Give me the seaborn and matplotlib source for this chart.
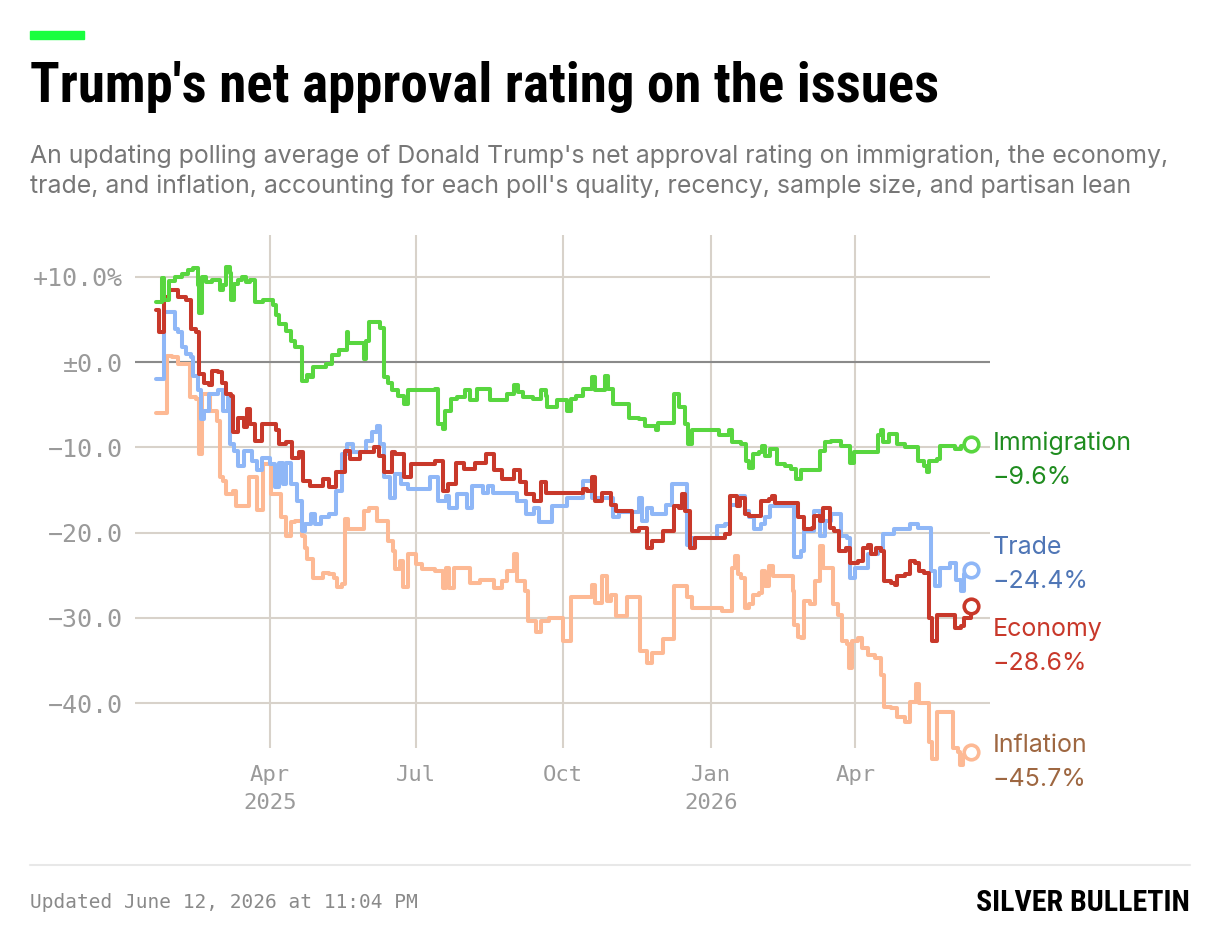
import matplotlib.pyplot as plt
import pandas as pd
import seaborn as sns
from matplotlib import font_manager
from matplotlib.lines import Line2D
from matplotlib.patches import Rectangle

# net approval (percentage points)
imm_dates = ["2025-01-20", "2025-01-24", "2025-01-25", "2025-01-28", "2025-02-01", "2025-02-05", "2025-02-09",
             "2025-02-12", "2025-02-15", "2025-02-16", "2025-02-18", "2025-02-20", "2025-02-24", "2025-03-01",
             "2025-03-03", "2025-03-05", "2025-03-07", "2025-03-08", "2025-03-10", "2025-03-12", "2025-03-15",
             "2025-03-17", "2025-03-20", "2025-03-23", "2025-03-28", "2025-04-03", "2025-04-05", "2025-04-07",
             "2025-04-11", "2025-04-14", "2025-04-17", "2025-04-21", "2025-04-24", "2025-04-26", "2025-04-28",
             "2025-05-06", "2025-05-10", "2025-05-14", "2025-05-19", "2025-05-20", "2025-05-26", "2025-05-30",
             "2025-05-31", "2025-06-02", "2025-06-09", "2025-06-11", "2025-06-14", "2025-06-16", "2025-06-20",
             "2025-06-24", "2025-06-26", "2025-07-13", "2025-07-15", "2025-07-18", "2025-07-19", "2025-07-23",
             "2025-07-27", "2025-08-01", "2025-08-04", "2025-08-08", "2025-08-16", "2025-08-27", "2025-08-31",
             "2025-09-03", "2025-09-06", "2025-09-12", "2025-09-17", "2025-09-20", "2025-09-21", "2025-09-27",
             "2025-10-03", "2025-10-06", "2025-10-09", "2025-10-13", "2025-10-19", "2025-10-21", "2025-10-27",
             "2025-10-29", "2025-11-01", "2025-11-11", "2025-11-17", "2025-11-21", "2025-11-28", "2025-11-29",
             "2025-12-09", "2025-12-12", "2025-12-16", "2025-12-18", "2025-12-20", "2026-01-06", "2026-01-12",
             "2026-01-14", "2026-01-20", "2026-01-23", "2026-01-25", "2026-01-27", "2026-01-31", "2026-02-02",
             "2026-02-04", "2026-02-07", "2026-02-11", "2026-02-16", "2026-02-20", "2026-02-23", "2026-02-26",
             "2026-03-10", "2026-03-13", "2026-03-17", "2026-03-23", "2026-03-29", "2026-03-31", "2026-04-15",
             "2026-04-17", "2026-04-18", "2026-04-22", "2026-04-27", "2026-05-02", "2026-05-10", "2026-05-14",
             "2026-05-16", "2026-05-17", "2026-05-22", "2026-05-24", "2026-06-02", "2026-06-06", "2026-06-12"]
imm_vals = [7.0, 9.8, 7.3, 9.5, 10.0, 10.3, 10.8,
            11.0, 9.0, 5.7, 10.0, 9.4, 9.6, 8.4,
            9.0, 11.2, 10.5, 7.3, 9.2, 9.6, 10.0,
            9.4, 9.6, 7.1, 7.3, 6.7, 5.5, 4.5,
            3.7, 2.5, 1.8, -2.2, -1.5, -1.8, -0.6,
            -0.2, 0.8, 1.4, 3.5, 2.2, 2.2, 0.4,
            2.5, 4.7, 4.0, -1.8, -2.5, -3.3, -4.0,
            -4.9, -3.3, -3.1, -7.3, -7.8, -5.7, -4.3,
            -4.1, -3.3, -4.5, -3.1, -4.5, -3.7, -2.7,
            -3.5, -4.1, -4.3, -3.3, -4.0, -5.3, -4.5,
            -5.7, -4.3, -4.0, -3.1, -1.8, -3.3, -1.6,
            -3.1, -4.9, -6.5, -6.7, -7.5, -8.0, -7.1,
            -3.7, -5.3, -7.3, -9.6, -8.0, -8.6, -8.0,
            -9.4, -9.6, -11.6, -12.4, -10.8, -10.6, -9.8,
            -11.0, -10.2, -12.0, -12.2, -12.5, -13.7, -12.7,
            -10.4, -9.4, -9.3, -9.8, -11.8, -10.6, -8.6,
            -8.0, -9.4, -8.4, -9.6, -10.0, -11.6, -12.2,
            -12.9, -11.6, -11.4, -9.8, -10.2, -9.8, -9.6]

econ_dates = ["2025-01-20", "2025-01-22", "2025-01-25", "2025-01-28", "2025-02-03", "2025-02-08", "2025-02-11",
              "2025-02-14", "2025-02-16", "2025-02-19", "2025-02-22", "2025-02-24", "2025-02-28", "2025-03-02",
              "2025-03-05", "2025-03-08", "2025-03-09", "2025-03-12", "2025-03-16", "2025-03-18", "2025-03-20",
              "2025-03-23", "2025-03-27", "2025-04-05", "2025-04-07", "2025-04-11", "2025-04-15", "2025-04-19",
              "2025-04-22", "2025-04-26", "2025-05-04", "2025-05-08", "2025-05-12", "2025-05-18", "2025-05-21",
              "2025-05-27", "2025-06-05", "2025-06-08", "2025-06-11", "2025-06-16", "2025-06-18", "2025-06-24",
              "2025-06-28", "2025-07-13", "2025-07-18", "2025-07-21", "2025-07-26", "2025-07-31", "2025-08-07",
              "2025-08-14", "2025-08-19", "2025-08-24", "2025-08-31", "2025-09-04", "2025-09-08", "2025-09-13",
              "2025-09-17", "2025-09-20", "2025-10-13", "2025-10-16", "2025-10-19", "2025-10-21", "2025-10-25",
              "2025-10-31", "2025-11-03", "2025-11-13", "2025-11-17", "2025-11-22", "2025-11-25", "2025-12-02",
              "2025-12-09", "2025-12-12", "2025-12-14", "2025-12-16", "2025-12-19", "2025-12-22", "2026-01-10",
              "2026-01-13", "2026-01-17", "2026-01-19", "2026-01-22", "2026-01-25", "2026-02-01", "2026-02-06",
              "2026-02-08", "2026-02-10", "2026-02-24", "2026-02-28", "2026-03-05", "2026-03-06", "2026-03-10",
              "2026-03-12", "2026-03-16", "2026-03-19", "2026-03-22", "2026-03-26", "2026-03-29", "2026-04-03",
              "2026-04-06", "2026-04-09", "2026-04-11", "2026-04-14", "2026-04-17", "2026-04-19", "2026-04-23",
              "2026-04-26", "2026-04-27", "2026-05-02", "2026-05-05", "2026-05-08", "2026-05-11", "2026-05-14",
              "2026-05-17", "2026-05-19", "2026-05-22", "2026-06-02", "2026-06-06", "2026-06-08", "2026-06-12"]
econ_vals = [6.1, 3.5, 7.6, 8.4, 7.6, 7.3, 3.9,
             3.5, -1.4, -2.5, -2.7, -1.0, -1.2, -2.5,
             -3.7, -4.0, -8.2, -6.5, -7.6, -5.5, -7.3,
             -9.2, -7.3, -8.0, -9.6, -9.4, -11.2, -10.6,
             -13.9, -14.5, -13.7, -14.7, -12.9, -10.4, -11.4,
             -10.6, -10.0, -11.0, -12.9, -10.6, -10.8, -13.5,
             -12.0, -11.6, -15.1, -14.3, -11.8, -12.5, -11.8,
             -10.8, -12.7, -13.7, -12.7, -14.1, -15.5, -16.3,
             -14.1, -15.3, -14.9, -15.1, -13.5, -16.3, -15.3,
             -16.7, -17.5, -19.8, -19.4, -21.8, -21.0, -19.8,
             -16.9, -17.1, -15.5, -17.5, -21.8, -20.6, -20.2,
             -15.7, -16.9, -15.9, -17.8, -18.0, -16.3, -16.1,
             -15.7, -16.5, -18.2, -19.6, -19.4, -18.0, -18.6,
             -17.1, -19.4, -19.8, -22.2, -21.8, -23.5, -23.3,
             -21.8, -21.4, -22.5, -21.8, -22.2, -25.7, -25.9,
             -26.1, -25.1, -24.9, -23.3, -23.5, -24.5, -24.7,
             -30.0, -32.7, -29.6, -31.2, -31.0, -30.0, -28.6]

trade_dates = ["2025-01-20", "2025-01-25", "2025-02-01", "2025-02-03", "2025-02-05", "2025-02-08", "2025-02-11",
               "2025-02-12", "2025-02-15", "2025-02-17", "2025-02-19", "2025-02-22", "2025-02-28", "2025-03-03",
               "2025-03-06", "2025-03-07", "2025-03-10", "2025-03-12", "2025-03-16", "2025-03-21", "2025-03-24",
               "2025-03-27", "2025-04-01", "2025-04-04", "2025-04-07", "2025-04-09", "2025-04-11", "2025-04-14",
               "2025-04-18", "2025-04-21", "2025-04-23", "2025-04-27", "2025-04-29", "2025-05-03", "2025-05-08",
               "2025-05-12", "2025-05-16", "2025-05-19", "2025-05-23", "2025-05-31", "2025-06-04", "2025-06-07",
               "2025-06-09", "2025-06-11", "2025-06-15", "2025-06-18", "2025-06-22", "2025-06-26", "2025-07-10",
               "2025-07-15", "2025-07-20", "2025-07-22", "2025-07-27", "2025-08-02", "2025-08-05", "2025-08-12",
               "2025-08-15", "2025-08-18", "2025-09-02", "2025-09-08", "2025-09-13", "2025-09-16", "2025-09-24",
               "2025-10-03", "2025-10-13", "2025-10-19", "2025-11-01", "2025-11-05", "2025-11-17", "2025-11-19",
               "2025-11-22", "2025-11-25", "2025-12-04", "2025-12-08", "2025-12-17", "2025-12-20", "2026-01-05",
               "2026-01-10", "2026-01-13", "2026-01-19", "2026-01-22", "2026-01-25", "2026-01-28", "2026-02-01",
               "2026-02-04", "2026-02-07", "2026-02-22", "2026-02-26", "2026-02-28", "2026-03-06", "2026-03-10",
               "2026-03-13", "2026-03-17", "2026-03-23", "2026-03-27", "2026-03-29", "2026-04-01", "2026-04-09",
               "2026-04-15", "2026-04-18", "2026-04-25", "2026-05-05", "2026-05-10", "2026-05-18", "2026-05-21",
               "2026-05-24", "2026-05-30", "2026-06-03", "2026-06-06", "2026-06-08", "2026-06-12"]
trade_vals = [-2.0, 5.9, 3.9, 3.5, 1.8, 1.0, 0.6,
              -1.6, -3.3, -6.7, -5.7, -3.7, -3.3, -5.7,
              -4.1, -9.6, -10.4, -12.2, -10.4, -11.6, -12.7,
              -11.2, -12.0, -14.7, -11.8, -14.3, -11.8, -14.3,
              -16.3, -19.8, -19.0, -17.8, -19.0, -18.2, -17.8,
              -15.1, -10.8, -9.6, -10.6, -9.2, -8.2, -7.5,
              -9.6, -13.5, -15.9, -13.1, -14.3, -14.9, -13.5,
              -16.3, -15.7, -17.1, -15.5, -17.1, -14.5, -15.3,
              -14.5, -15.3, -16.3, -17.8, -17.1, -18.8, -16.9,
              -15.9, -13.9, -15.9, -18.2, -17.6, -15.9, -18.6,
              -17.1, -17.8, -16.7, -14.3, -21.4, -20.6, -19.2,
              -19.0, -16.7, -15.7, -17.5, -18.2, -19.6, -19.0,
              -18.2, -16.9, -22.9, -22.2, -19.8, -17.5, -20.4,
              -18.6, -17.8, -20.4, -20.6, -25.3, -24.1, -22.5,
              -22.2, -20.2, -19.6, -19.0, -19.4, -24.5, -26.3,
              -24.1, -23.5, -25.5, -26.9, -24.9, -24.4]

infl_dates = ["2025-01-20", "2025-01-27", "2025-01-30", "2025-02-03", "2025-02-10", "2025-02-14", "2025-02-16",
              "2025-02-18", "2025-02-23", "2025-02-27", "2025-03-01", "2025-03-03", "2025-03-05", "2025-03-09",
              "2025-03-11", "2025-03-19", "2025-03-24", "2025-03-28", "2025-04-02", "2025-04-08", "2025-04-11",
              "2025-04-14", "2025-04-17", "2025-04-21", "2025-04-23", "2025-04-24", "2025-04-28", "2025-05-04",
              "2025-05-08", "2025-05-11", "2025-05-13", "2025-05-16", "2025-05-18", "2025-05-20", "2025-05-30",
              "2025-06-02", "2025-06-07", "2025-06-14", "2025-06-17", "2025-06-18", "2025-06-21", "2025-06-23",
              "2025-06-26", "2025-07-01", "2025-07-05", "2025-07-13", "2025-07-18", "2025-07-20", "2025-07-22",
              "2025-07-25", "2025-08-04", "2025-08-10", "2025-08-19", "2025-08-24", "2025-08-27", "2025-08-31",
              "2025-09-02", "2025-09-07", "2025-09-09", "2025-09-14", "2025-09-17", "2025-09-22", "2025-10-01",
              "2025-10-06", "2025-10-19", "2025-10-21", "2025-10-25", "2025-10-28", "2025-10-31", "2025-11-03",
              "2025-11-10", "2025-11-18", "2025-11-22", "2025-11-25", "2025-12-02", "2025-12-09", "2025-12-17",
              "2025-12-20", "2026-01-08", "2026-01-14", "2026-01-16", "2026-01-18", "2026-01-20", "2026-01-22",
              "2026-01-25", "2026-01-27", "2026-01-31", "2026-02-02", "2026-02-04", "2026-02-06", "2026-02-09",
              "2026-02-21", "2026-02-22", "2026-02-24", "2026-02-26", "2026-02-28", "2026-03-04", "2026-03-07",
              "2026-03-10", "2026-03-12", "2026-03-18", "2026-03-21", "2026-03-24", "2026-03-27", "2026-03-28",
              "2026-03-30", "2026-04-03", "2026-04-05", "2026-04-09", "2026-04-13", "2026-04-17", "2026-04-19",
              "2026-04-23", "2026-04-27", "2026-05-02", "2026-05-05", "2026-05-09", "2026-05-11", "2026-05-17",
              "2026-05-19", "2026-05-22", "2026-06-01", "2026-06-04", "2026-06-05", "2026-06-07", "2026-06-12"]
infl_vals = [-6.0, 0.7, 0.6, -0.2, -4.1, -4.3, -10.8,
             -3.7, -5.7, -6.9, -13.5, -13.9, -15.5, -15.1,
             -16.9, -13.5, -17.3, -12.0, -15.5, -18.2, -20.4,
             -18.8, -18.6, -20.4, -21.8, -23.1, -25.3, -24.7,
             -24.9, -25.3, -26.4, -26.0, -18.4, -19.6, -17.5,
             -17.1, -18.6, -21.0, -22.1, -24.3, -23.3, -26.4,
             -22.5, -23.7, -24.3, -24.5, -26.5, -24.1, -26.5,
             -24.1, -25.9, -25.5, -26.5, -25.7, -24.5, -22.5,
             -25.7, -26.9, -30.4, -31.6, -30.4, -30.0, -32.7,
             -27.5, -26.1, -28.2, -25.1, -28.0, -27.3, -29.8,
             -27.5, -33.9, -35.3, -34.1, -32.5, -26.3, -27.6,
             -28.8, -29.2, -24.1, -22.7, -24.9, -25.3, -28.8,
             -28.4, -27.3, -27.1, -24.5, -26.3, -23.9, -25.1,
             -26.9, -30.8, -32.2, -32.4, -28.0, -28.4, -25.7,
             -21.6, -24.1, -28.4, -29.6, -32.7, -33.1, -35.9,
             -32.7, -32.4, -33.5, -34.3, -34.7, -36.7, -40.4,
             -40.6, -41.6, -42.2, -39.8, -37.8, -40.0, -44.5,
             -46.5, -41.0, -45.3, -45.7, -47.3, -46.1, -45.7]

y_ticks = [10, 0, -10, -20, -30, -40]
y_labels = ["+10.0%", "±0.0", "−10.0", "−20.0", "−30.0", "−40.0"]
x_ticks = ["2025-04-01", "2025-07-01", "2025-10-01", "2026-01-01", "2026-04-01"]
x_labels = ["Apr\n2025", "Jul", "Oct", "Jan\n2026", "Apr"]

W, H = 1220, 946
sns.set_theme(style="white")
plt.rcParams["font.family"] = ["Inter", "DejaVu Sans"]

# a condensed face for the headline if one is around, else plain bold DejaVu a bit smaller
installed = {f.name for f in font_manager.fontManager.ttflist}
narrow = None
for cand in ["Roboto Condensed", "Liberation Sans Narrow", "Open Sans Condensed", "DejaVu Sans Condensed"]:
    if cand in installed:
        narrow = cand
        break
if narrow:
    head_font, title_size, logo_size = [narrow, "DejaVu Sans"], 39.5, 21.5
else:
    head_font, title_size, logo_size = ["DejaVu Sans"], 31.5, 17

fig = plt.figure(figsize=(W / 100, H / 100), dpi=100)
ax = fig.add_axes([135 / W, 1 - 748 / H, 855 / W, (748 - 235) / H])

# name, dates, values, line colour, label colour, label y (data units)
series = [
    ("Inflation", infl_dates, infl_vals, "#fdb994", "#9e6741", -44.9),
    ("Trade", trade_dates, trade_vals, "#8fb7f7", "#4f76b6", -21.7),
    ("Economy", econ_dates, econ_vals, "#c8382a", "#c8382a", -31.3),
    ("Immigration", imm_dates, imm_vals, "#58d63f", "#1f8c1f", -9.5),
]

lab_tf = ax.get_yaxis_transform()
for name, d, v, c, lc, ly in series:
    d = pd.to_datetime(d)
    sns.lineplot(x=d, y=v, ax=ax, color=c, linewidth=2.9, drawstyle="steps-post",
                 estimator=None, clip_on=False, zorder=3)
    ax.plot(d[-1], v[-1], "o", ms=10.5, mfc="white", mec=c, mew=2.6, clip_on=False, zorder=5)
    ax.text(1.003, ly, name, transform=lab_tf, color=lc, fontsize=18, va="center", ha="left")
    ax.text(1.003, ly - 4.0, f"{v[-1]:.1f}%".replace("-", "−"), transform=lab_tf, color=lc,
            fontsize=18, va="center", ha="left")

ax.set_xlim(pd.Timestamp("2025-01-07"), pd.Timestamp("2026-06-24"))
ax.set_ylim(-45.25, 14.9)

ax.set_yticks(y_ticks)
ax.set_yticklabels(y_labels, fontfamily="DejaVu Sans Mono", fontsize=18, color="#9a9a9a")
ax.set_xticks(pd.to_datetime(x_ticks))
ax.set_xticklabels(x_labels, fontfamily="DejaVu Sans Mono", fontsize=16, color="#9a9a9a",
                   linespacing=1.55)
ax.tick_params(axis="both", length=0)
ax.tick_params(axis="y", pad=9)
ax.tick_params(axis="x", pad=12)

ax.grid(True, color="#d8d2ca", lw=1.5, zorder=0)
ax.axhline(0, color="#8a8a8a", lw=1.5, zorder=1)
for s in ax.spines.values():
    s.set_visible(False)
ax.set_xlabel("")
ax.set_ylabel("")

# header
fig.add_artist(Rectangle((30 / W, 1 - 39 / H), 54 / W, 8 / H, color="#19ff3f", transform=fig.transFigure))
fig.text(30 / W, 1 - 102 / H, "Trump's net approval rating on the issues", family=head_font,
         fontweight="bold", fontsize=title_size, color="black", va="baseline")
fig.text(30 / W, 1 - 163 / H,
         "An updating polling average of Donald Trump's net approval rating on immigration, the economy,",
         fontsize=17.9, color="#777777", va="baseline")
fig.text(30 / W, 1 - 193 / H,
         "trade, and inflation, accounting for each poll's quality, recency, sample size, and partisan lean",
         fontsize=17.9, color="#777777", va="baseline")

# footer
fig.add_artist(Line2D([30 / W, 1190 / W], [1 - 865 / H] * 2, color="#e8e8e8", lw=1.5))
fig.text(30 / W, 1 - 908 / H, "Updated June 12, 2026 at 11:04 PM", family="DejaVu Sans Mono",
         fontsize=14, color="#8a8a8a", va="baseline")
fig.text(1190 / W, 1 - 911 / H, "SILVER BULLETIN", family=head_font, fontweight="heavy",
         fontsize=logo_size, color="black", va="baseline", ha="right")

fig.savefig("out.png", dpi=100, facecolor="white")
